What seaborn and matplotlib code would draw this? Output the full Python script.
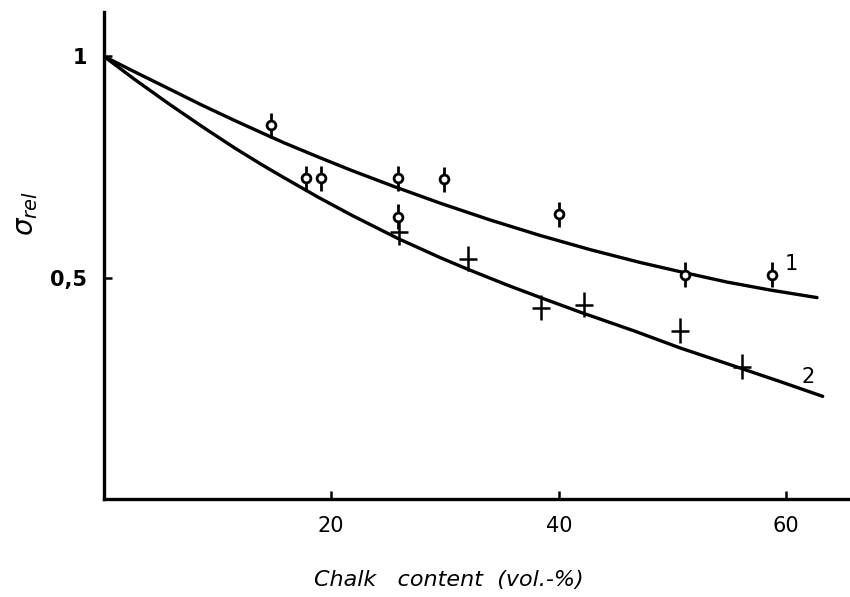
import numpy as np
import pandas as pd
import matplotlib
matplotlib.use("Agg")
import matplotlib.pyplot as plt
import seaborn as sns

# Fitted curves (chalk content in vol.-%, relative strength)
curve1_x = [0.0, 2.7, 5.7, 8.6, 11.5, 13.9, 15.9, 18.9, 21.8, 25.5, 29.6, 34.0,
            38.4, 42.8, 47.2, 51.1, 54.8, 58.6, 62.7]
curve1_y = [1.0, 0.965, 0.927, 0.890, 0.855, 0.827, 0.804, 0.772, 0.742, 0.706,
            0.668, 0.630, 0.595, 0.563, 0.534, 0.511, 0.490, 0.472, 0.455]
curve2_x = [0.0, 2.7, 5.7, 8.6, 11.5, 13.9, 15.9, 18.9, 21.8, 25.9, 29.6, 32.0,
            35.5, 38.4, 41.9, 46.6, 50.7, 55.7, 59.5, 63.2]
curve2_y = [1.0, 0.948, 0.893, 0.842, 0.793, 0.755, 0.725, 0.681, 0.641, 0.588,
            0.545, 0.519, 0.483, 0.455, 0.422, 0.380, 0.341, 0.298, 0.265, 0.232]

# Measured values
series1_x = [14.7, 17.8, 19.1, 25.9, 25.9, 29.9, 40.0, 51.1, 58.7]
series1_y = [0.844, 0.724, 0.724, 0.724, 0.638, 0.722, 0.643, 0.507, 0.507]
series2_x = [26.0, 32.0, 38.4, 42.2, 50.7, 56.1]
series2_y = [0.602, 0.543, 0.432, 0.439, 0.380, 0.299]

curve_labels = ["1", "2"]
x_ticks = [20, 40, 60]
y_ticks = [0.5, 1.0]
y_tick_labels = ["0,5", "1"]

sns.set_style("ticks")
plt.rcParams["font.family"] = ["DejaVu Sans"]
plt.rcParams["text.color"] = "black"
plt.rcParams["axes.labelcolor"] = "black"
plt.rcParams["xtick.color"] = "black"
plt.rcParams["ytick.color"] = "black"

fig = plt.figure(figsize=(8.5, 5.97), dpi=100)
ax = fig.add_axes([0.122, 0.164, 0.878, 0.816])

c1 = pd.DataFrame({"x": curve1_x, "y": curve1_y})
c2 = pd.DataFrame({"x": curve2_x, "y": curve2_y})
sns.lineplot(data=c1, x="x", y="y", ax=ax, color="black", lw=2.4, sort=True)
sns.lineplot(data=c2, x="x", y="y", ax=ax, color="black", lw=2.4, sort=True)

# vertical stems through the markers
ax.errorbar(series1_x, series1_y, yerr=0.028, fmt="none", ecolor="black",
            elinewidth=2.0, capsize=0, zorder=3)
ax.errorbar(series2_x, series2_y, yerr=0.028, fmt="none", ecolor="black",
            elinewidth=1.8, capsize=0, zorder=3)

s1 = pd.DataFrame({"x": series1_x, "y": series1_y})
s2 = pd.DataFrame({"x": series2_x, "y": series2_y})
sns.scatterplot(data=s1, x="x", y="y", ax=ax, marker="o", s=40,
                facecolor="white", edgecolor="black", linewidth=2.0, zorder=4)
sns.scatterplot(data=s2, x="x", y="y", ax=ax, marker="_", s=160,
                color="black", linewidth=1.8, zorder=4)

ax.text(60.4, 0.53, curve_labels[0], fontsize=15, ha="center", va="center")
ax.text(61.9, 0.276, curve_labels[1], fontsize=15, ha="center", va="center")

ax.set_xlim(0, 65.6)
ax.set_ylim(0, 1.1)
ax.set_xticks(x_ticks)
ax.set_xticklabels([str(t) for t in x_ticks], fontsize=15)
ax.set_yticks(y_ticks)
ax.set_yticklabels(y_tick_labels, fontsize=15, fontweight="bold")
ax.tick_params(direction="in", length=6, width=1.8, pad=12)

ax.set_xlabel("Chalk   content  (vol.-%)", fontsize=16, style="italic")
ax.xaxis.set_label_coords(0.462, -0.146)
ax.set_ylabel(r"$\sigma_{rel}$", fontsize=20)
ax.yaxis.set_label_coords(-0.085, 0.587)

for side in ["top", "right"]:
    ax.spines[side].set_visible(False)
for side in ["left", "bottom"]:
    ax.spines[side].set_linewidth(2.4)
    ax.spines[side].set_color("black")

fig.savefig("out.png", dpi=100)
